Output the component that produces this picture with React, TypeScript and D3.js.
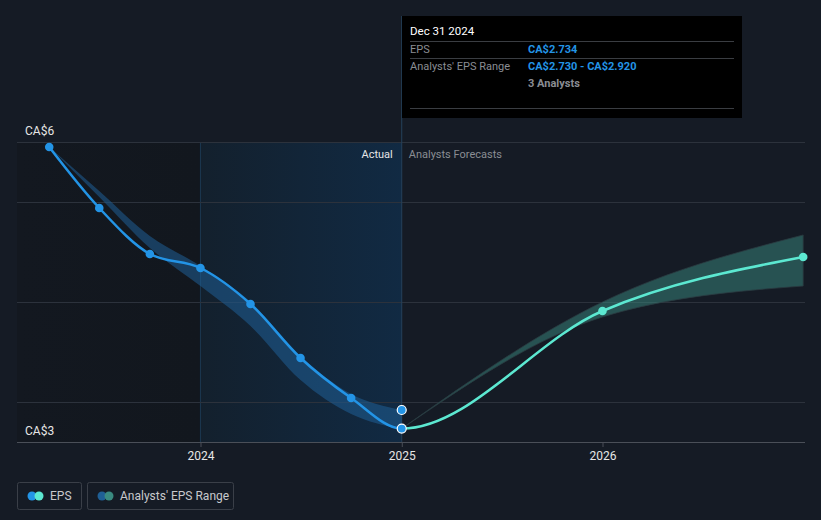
import React, { useEffect, useRef } from 'react';
import * as d3 from 'd3';

// actual EPS (quarterly)
const pastDates = ['2023-03-31', '2023-06-30', '2023-09-30', '2023-12-31', '2024-03-31', '2024-06-30', '2024-09-30', '2024-12-31'];
const pastEps = [5.55, 4.94, 4.48, 4.34, 3.98, 3.44, 3.04, 2.734];
const pastLow = [5.55, 5.05, 4.54, 4.16, 3.76, 3.22, 2.88, 2.73];
const pastHigh = [5.55, 5.11, 4.66, 4.36, 4.0, 3.46, 3.08, 2.92];

// analyst forecasts
const fcDates = ['2024-12-31', '2025-12-31', '2026-12-31'];
const fcEps = [2.734, 3.91, 4.45];
const fcLow = [2.734, 3.85, 4.16];
const fcHigh = [2.734, 4.0, 4.67];

const yearTicks = ['2024-01-01', '2025-01-01', '2026-01-01'];
const gridValues = [3, 4, 5];

const W = 821;
const H = 520;
const FONT = 'Roboto, "Noto Sans", sans-serif';

const App = () => {
  const ref = useRef<SVGSVGElement>(null);

  useEffect(() => {
    const svg = d3.select(ref.current);
    svg.selectAll('*').remove();
    const parse = d3.timeParse('%Y-%m-%d');

    const x = d3.scaleTime()
      .domain([parse('2024-01-01')!, parse('2026-01-01')!])
      .range([201, 603]);
    const y = d3.scaleLinear().domain([2.6, 5.6]).range([442, 142]);

    const left = 17;
    const right = 805;
    const splitX = x(parse('2024-12-31')!);
    const startHighlight = x(parse('2023-12-31')!);

    svg.append('rect').attr('width', W).attr('height', H).attr('fill', '#151b25');

    const defs = svg.append('defs');
    const g1 = defs.append('linearGradient').attr('id', 'pastShade');
    g1.append('stop').attr('offset', '0%').attr('stop-color', '#131820');
    g1.append('stop').attr('offset', '100%').attr('stop-color', '#12171e');
    const g2 = defs.append('linearGradient').attr('id', 'hiShade');
    g2.append('stop').attr('offset', '0%').attr('stop-color', '#13202d');
    g2.append('stop').attr('offset', '100%').attr('stop-color', '#112a43');
    defs.append('clipPath').attr('id', 'clipPast')
      .append('rect').attr('x', 0).attr('y', 0).attr('width', splitX).attr('height', H);
    defs.append('clipPath').attr('id', 'clipFc')
      .append('rect').attr('x', splitX).attr('y', 0).attr('width', W - splitX).attr('height', H);

    // shaded regions
    svg.append('rect')
      .attr('x', left).attr('y', y(5.6))
      .attr('width', startHighlight - left).attr('height', y(2.6) - y(5.6))
      .attr('fill', 'url(#pastShade)');
    svg.append('rect')
      .attr('x', startHighlight).attr('y', y(5.6))
      .attr('width', splitX - startHighlight).attr('height', y(2.6) - y(5.6))
      .attr('fill', 'url(#hiShade)');
    svg.append('line')
      .attr('x1', startHighlight).attr('x2', startHighlight)
      .attr('y1', y(5.6)).attr('y2', y(2.6))
      .attr('stroke', '#1b3850').attr('stroke-width', 1);

    // gridlines
    svg.selectAll('.grid')
      .data([...gridValues, 5.6])
      .enter()
      .append('line')
      .attr('x1', left).attr('x2', right)
      .attr('y1', d => Math.round(y(d)) + 0.5).attr('y2', d => Math.round(y(d)) + 0.5)
      .attr('stroke', '#2c323c').attr('stroke-width', 1);

    // tooltip guide line
    svg.append('line')
      .attr('x1', splitX).attr('x2', splitX)
      .attr('y1', 16).attr('y2', y(2.6))
      .attr('stroke', '#25415a').attr('stroke-width', 1);

    const pastRows = pastDates.map((d, i) => ({ date: parse(d)!, v: pastEps[i], lo: pastLow[i], hi: pastHigh[i] }));
    const fcRows = fcDates.map((d, i) => ({ date: parse(d)!, v: fcEps[i], lo: fcLow[i], hi: fcHigh[i] }));
    const allRows = [...pastRows, ...fcRows.slice(1)];

    const band = d3.area<any>()
      .x(d => x(d.date))
      .y0(d => y(d.lo))
      .y1(d => y(d.hi))
      .curve(d3.curveMonotoneX);
    const line = d3.line<any>()
      .x(d => x(d.date))
      .y(d => y(d.v))
      .curve(d3.curveMonotoneX);

    // range bands
    svg.append('path').datum(pastRows).attr('d', band)
      .attr('fill', '#1f5f95').attr('fill-opacity', 0.55);
    svg.append('path').datum(fcRows).attr('d', band)
      .attr('fill', '#3a8a80').attr('fill-opacity', 0.5)
      .attr('stroke', '#2a3a40').attr('stroke-width', 0.8);

    // EPS line: one curve, coloured by side of the split
    svg.append('path').datum(allRows).attr('d', line)
      .attr('clip-path', 'url(#clipPast)')
      .attr('fill', 'none').attr('stroke', '#2394e6').attr('stroke-width', 2.5);
    svg.append('path').datum(allRows).attr('d', line)
      .attr('clip-path', 'url(#clipFc)')
      .attr('fill', 'none').attr('stroke', '#5ce8d1').attr('stroke-width', 2.5);

    // points
    svg.selectAll('.pp')
      .data(pastRows.slice(0, -1))
      .enter()
      .append('circle')
      .attr('cx', d => x(d.date)).attr('cy', d => y(d.v))
      .attr('r', 4.3).attr('fill', '#2394e6');
    svg.selectAll('.fp')
      .data(fcRows.slice(1))
      .enter()
      .append('circle')
      .attr('cx', d => x(d.date)).attr('cy', d => y(d.v))
      .attr('r', 4.3).attr('fill', '#5ce8d1');

    // hover markers
    const last = pastRows[pastRows.length - 1];
    svg.selectAll('.hm')
      .data([last.hi, last.v])
      .enter()
      .append('circle')
      .attr('cx', x(last.date)).attr('cy', d => y(d))
      .attr('r', 4.5).attr('fill', '#2394e6')
      .attr('stroke', '#ffffff').attr('stroke-width', 1.2);

    // bottom axis
    svg.append('line')
      .attr('x1', left).attr('x2', right)
      .attr('y1', 442.5).attr('y2', 442.5)
      .attr('stroke', '#4a4f58');
    const ticks = yearTicks.map(t => parse(t)!);
    svg.selectAll('.tk')
      .data(ticks)
      .enter()
      .append('line')
      .attr('x1', d => x(d)).attr('x2', d => x(d))
      .attr('y1', 442).attr('y2', 447)
      .attr('stroke', '#4a4f58');
    svg.selectAll('.tl')
      .data(ticks)
      .enter()
      .append('text')
      .attr('x', d => x(d)).attr('y', 460)
      .attr('text-anchor', 'middle')
      .attr('fill', '#e6e6e6').attr('font-size', 12).attr('font-family', FONT)
      .text(d => d3.timeFormat('%Y')(d));

    // y labels
    svg.append('text').attr('x', 25).attr('y', 135)
      .attr('fill', '#e6e6e6').attr('font-size', 12).attr('font-family', FONT).text('CA$6');
    svg.append('text').attr('x', 25).attr('y', 435)
      .attr('fill', '#e6e6e6').attr('font-size', 12).attr('font-family', FONT).text('CA$3');

    // region labels
    svg.append('text').attr('x', splitX - 9).attr('y', 158)
      .attr('text-anchor', 'end')
      .attr('fill', '#e6e6e6').attr('font-size', 11).attr('font-family', FONT).text('Actual');
    svg.append('text').attr('x', splitX + 7).attr('y', 158)
      .attr('fill', '#8a8d93').attr('font-size', 11).attr('font-family', FONT).text('Analysts Forecasts');

    // tooltip
    const tip = svg.append('g').attr('font-family', FONT).attr('font-size', 11);
    tip.append('rect').attr('x', 402).attr('y', 16).attr('width', 340).attr('height', 102).attr('fill', '#000000');
    tip.append('text').attr('x', 410).attr('y', 35).attr('fill', '#ffffff').attr('font-size', 11.5).text('Dec 31 2024');
    [41.5, 58.5, 108.5].forEach(ly => {
      tip.append('line').attr('x1', 410).attr('x2', 734).attr('y1', ly).attr('y2', ly)
        .attr('stroke', '#3a3d42');
    });
    tip.append('text').attr('x', 410).attr('y', 53).attr('fill', '#8a8d93').text('EPS');
    tip.append('text').attr('x', 528).attr('y', 53).attr('fill', '#2394e6').attr('font-weight', 'bold')
      .text(`CA$${last.v.toFixed(3)}`);
    tip.append('text').attr('x', 410).attr('y', 70).attr('fill', '#8a8d93').text("Analysts' EPS Range");
    tip.append('text').attr('x', 528).attr('y', 70).attr('fill', '#2394e6').attr('font-weight', 'bold')
      .text(`CA$${last.lo.toFixed(3)} - CA$${last.hi.toFixed(3)}`);
    tip.append('text').attr('x', 528).attr('y', 87).attr('fill', '#8a8d93').attr('font-weight', 'bold').text('3 Analysts');

    // legend
    const legend = [
      { label: 'EPS', x: 17, w: 65, c1: '#2394e6', c2: '#5ce8d1' },
      { label: "Analysts' EPS Range", x: 87, w: 147, c1: '#1f5f95', c2: '#3a8a80' },
    ];
    const lg = svg.selectAll('.lg').data(legend).enter().append('g');
    lg.append('rect')
      .attr('x', d => d.x + 0.5).attr('y', 482.5)
      .attr('width', d => d.w - 1).attr('height', 27).attr('rx', 2)
      .attr('fill', 'none').attr('stroke', '#3a3f48');
    lg.append('circle').attr('cx', d => d.x + 15).attr('cy', 496).attr('r', 4.5).attr('fill', d => d.c1);
    lg.append('circle').attr('cx', d => d.x + 22).attr('cy', 496).attr('r', 4.5).attr('fill', d => d.c2);
    lg.append('text')
      .attr('x', d => d.x + 33).attr('y', 500)
      .attr('fill', '#c8c9cc').attr('font-size', 12).attr('font-family', FONT)
      .text(d => d.label);
  }, []);

  return (
    <svg ref={ref} width={W} height={H} style={{ position: 'absolute', left: 0, top: 0, display: 'block' }} />
  );
};

export default App;
